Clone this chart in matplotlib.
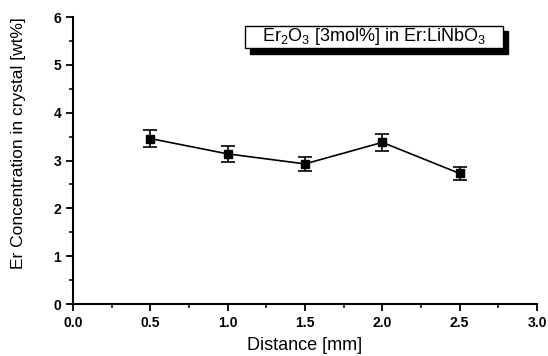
import matplotlib
matplotlib.use("Agg")
import matplotlib.pyplot as plt
from matplotlib.patches import Rectangle
from matplotlib.ticker import MultipleLocator

distance = [0.5, 1.0, 1.5, 2.0, 2.5]
concentration = [3.46, 3.14, 2.93, 3.38, 2.73]
error = [0.18, 0.16, 0.15, 0.17, 0.14]
xticks = [0.0, 0.5, 1.0, 1.5, 2.0, 2.5, 3.0]
yticks = [0, 1, 2, 3, 4, 5, 6]

plt.rcParams['font.family'] = ['Liberation Sans', 'DejaVu Sans']
plt.rcParams['mathtext.fontset'] = 'custom'
plt.rcParams['mathtext.rm'] = 'Liberation Sans'
plt.rcParams['mathtext.it'] = 'Liberation Sans:italic'
plt.rcParams['mathtext.bf'] = 'Liberation Sans:bold'

fig = plt.figure(figsize=(5.48, 3.56), dpi=100)
ax = fig.add_axes([0.133, 0.146, 0.847, 0.806])

ax.errorbar(distance, concentration, yerr=error, color='black', marker='s',
            markersize=6, linewidth=1.2, elinewidth=1.2, capsize=5, capthick=1.2)

ax.set_xlim(0, 3.0)
ax.set_ylim(0, 6)
ax.set_xticks(xticks)
ax.set_xticklabels([f"{t:.1f}" for t in xticks])
ax.set_yticks(yticks)
ax.xaxis.set_minor_locator(MultipleLocator(0.25))
ax.yaxis.set_minor_locator(MultipleLocator(0.5))
for s in ['top', 'right']:
    ax.spines[s].set_visible(False)
for s in ['left', 'bottom']:
    ax.spines[s].set_linewidth(1.5)
ax.tick_params(which='major', direction='out', length=5, width=1.3, labelsize=10)
ax.tick_params(which='minor', direction='out', length=3, width=1.1)
for lab in ax.get_xticklabels() + ax.get_yticklabels():
    lab.set_fontweight('bold')

ax.set_xlabel('Distance [mm]', fontsize=13, labelpad=5)
ax.set_ylabel('Er Concentration in crystal [wt%]', fontsize=12.5)
ax.yaxis.set_label_coords(-0.10, 0.56)

# annotation box with shadow
bx0, by0, bw, bh = 0.371, 0.892, 0.556, 0.078
ax.add_patch(Rectangle((bx0 + 0.011, by0 - 0.02), bw, bh, transform=ax.transAxes,
                       facecolor='black', edgecolor='black', clip_on=False, zorder=4))
ax.add_patch(Rectangle((bx0, by0), bw, bh, transform=ax.transAxes,
                       facecolor='white', edgecolor='black', linewidth=1.0,
                       clip_on=False, zorder=5))
ax.text(bx0 + bw / 2, by0 + bh / 2, r'Er$_2$O$_3$ [3mol%] in Er:LiNbO$_3$',
        transform=ax.transAxes, ha='center', va='center', fontsize=13, zorder=6)

fig.savefig('out.png', dpi=100)
